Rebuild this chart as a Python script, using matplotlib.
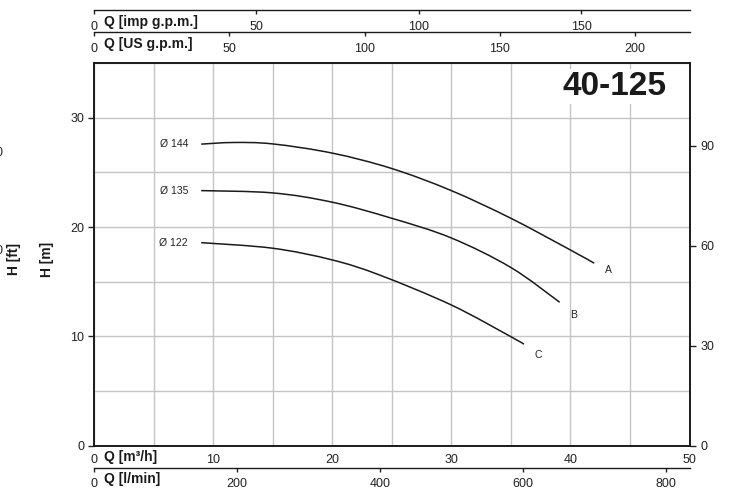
import matplotlib
matplotlib.use("Agg")
import matplotlib.pyplot as plt
from matplotlib.ticker import MultipleLocator
from matplotlib.path import Path
from matplotlib.patches import PathPatch

plt.rcParams['font.family'] = ['Liberation Sans', 'DejaVu Sans']

# ---- data (Q in m3/h, H in m) ----
Q_A = [9.0, 11.7, 15, 20, 25, 30, 35, 40, 42.0]
H_A = [27.58, 27.73, 27.6, 26.76, 25.35, 23.33, 20.8, 17.9, 16.69]
Q_B = [9.0, 15, 20, 25, 30, 35, 39.1]
H_B = [23.33, 23.12, 22.27, 20.8, 19.0, 16.3, 13.12]
Q_C = [9.0, 15, 20, 24, 30, 35, 36.1]
H_C = [18.57, 18.06, 16.99, 15.6, 12.87, 9.97, 9.28]
curve_letters = ['A', 'B', 'C']
diam_labels = ['Ø 144', 'Ø 135', 'Ø 122']
title = '40-125'

m_ticks = [0, 10, 20, 30]
ft_ticks = [0, 30, 60, 90]
q_ticks = [0, 10, 20, 30, 40, 50]
lmin_ticks = [0, 200, 400, 600, 800]
us_ticks = [0, 50, 100, 150, 200]
imp_ticks = [0, 50, 100, 150]

W, H = 739, 490
fig = plt.figure(figsize=(W / 100, H / 100), dpi=100)

def fx(x):
    return x / W

def fy(y):
    return 1 - y / H

L, R, T, B = 94, 689.5, 63, 445.7
ax = fig.add_axes([fx(L), fy(B), fx(R - L), (B - T) / H])
QMAX, HMAX = 50, 35
ax.set_xlim(0, QMAX)
ax.set_ylim(0, HMAX)

grid_c = '#c4c4c4'
ax.xaxis.set_minor_locator(MultipleLocator(5))
ax.yaxis.set_minor_locator(MultipleLocator(5))
ax.grid(which='both', color=grid_c, lw=1.0)
ax.set_axisbelow(True)
ax.set_xticks(q_ticks)
ax.set_yticks(m_ticks)
ax.tick_params(axis='x', which='both', length=0, pad=6, labelsize=9, colors='#222222')
ax.tick_params(axis='y', which='major', length=4, width=1, pad=3, labelsize=9, colors='#222222')
ax.tick_params(axis='y', which='minor', length=0)
for s in ax.spines.values():
    s.set_linewidth(1.4)
    s.set_color('#1a1a1a')
    s.set_zorder(10)

ax2 = ax.twinx()
ax2.set_ylim(0, HMAX * 3.28084)
ax2.set_yticks(ft_ticks)
ax2.tick_params(axis='y', length=4, width=1, pad=4, labelsize=9, colors='#222222')
for s in ax2.spines.values():
    s.set_visible(False)


def smooth_path(xs, ys):
    pts = list(zip(xs, ys))
    n = len(pts)
    verts = [pts[0]]
    codes = [Path.MOVETO]
    for i in range(n - 1):
        p0 = pts[i - 1] if i > 0 else pts[i]
        p1 = pts[i]
        p2 = pts[i + 1]
        p3 = pts[i + 2] if i + 2 < n else pts[i + 1]
        c1 = (p1[0] + (p2[0] - p0[0]) / 6, p1[1] + (p2[1] - p0[1]) / 6)
        c2 = (p2[0] - (p3[0] - p1[0]) / 6, p2[1] - (p3[1] - p1[1]) / 6)
        verts += [c1, c2, p2]
        codes += [Path.CURVE4] * 3
    return Path(verts, codes)


for q, h in zip([Q_A, Q_B, Q_C], [H_A, H_B, H_C]):
    ax.add_patch(PathPatch(smooth_path(q, h), facecolor='none', edgecolor='#1a1a1a',
                           lw=1.1, zorder=3))

# letters at curve ends
ax.text(Q_A[-1] + 0.9, H_A[-1] - 0.6, curve_letters[0], fontsize=7.5, ha='left', va='center', color='#222')
ax.text(Q_B[-1] + 0.9, H_B[-1] - 1.2, curve_letters[1], fontsize=7.5, ha='left', va='center', color='#222')
ax.text(Q_C[-1] + 0.9, H_C[-1] - 1.0, curve_letters[2], fontsize=7.5, ha='left', va='center', color='#222')
# diameter labels
for q, h, d in zip([Q_A, Q_B, Q_C], [H_A, H_B, H_C], diam_labels):
    ax.text(q[0] - 1.1, h[0], d, fontsize=7.5, ha='right', va='center', color='#222',
            bbox=dict(facecolor='white', edgecolor='none', pad=1.0))

ax.text(48.1, 32.87, title, fontsize=24, fontweight='bold', ha='right', va='center',
        color='#1a1a1a', bbox=dict(facecolor='white', edgecolor='none', pad=1.5))

# secondary flow scales
def scale_axis(ypix, factor, ticks, pad):
    a = fig.add_axes([fx(L), fy(ypix), fx(R - L), 0.001])
    a.set_xlim(0, QMAX * factor)
    a.set_ylim(0, 1)
    a.set_yticks([])
    a.set_xticks(ticks)
    a.patch.set_visible(False)
    for k in ['top', 'left', 'right']:
        a.spines[k].set_visible(False)
    a.spines['bottom'].set_linewidth(1.0)
    a.spines['bottom'].set_color('#1a1a1a')
    a.tick_params(axis='x', length=3, width=1, pad=pad, labelsize=9, colors='#222222')
    return a

scale_axis(10, 3.66615, imp_ticks, 5)
scale_axis(32, 4.40287, us_ticks, 5)
scale_axis(468, 1000 / 60, lmin_ticks, 4.5)

lbl_kw = dict(fontsize=10, fontweight='bold', color='#1a1a1a', va='center', ha='left')
fig.text(fx(104), fy(22), 'Q [imp g.p.m.]', **lbl_kw)
fig.text(fx(104), fy(44), 'Q [US g.p.m.]', **lbl_kw)
fig.text(fx(104), fy(457), 'Q [m³/h]', **lbl_kw)
fig.text(fx(104), fy(479), 'Q [l/min]', **lbl_kw)

fig.text(fx(47.5), fy(259), 'H [m]', rotation=90, **dict(lbl_kw, ha='center'))
fig.text(fx(14), fy(259), 'H [ft]', rotation=90, **dict(lbl_kw, ha='center'))
fig.text(fx(3), fy(153), '90', fontsize=9, color='#222', ha='right', va='center')
fig.text(fx(3), fy(251), '60', fontsize=9, color='#222', ha='right', va='center')

fig.savefig('out.png', dpi=100)
